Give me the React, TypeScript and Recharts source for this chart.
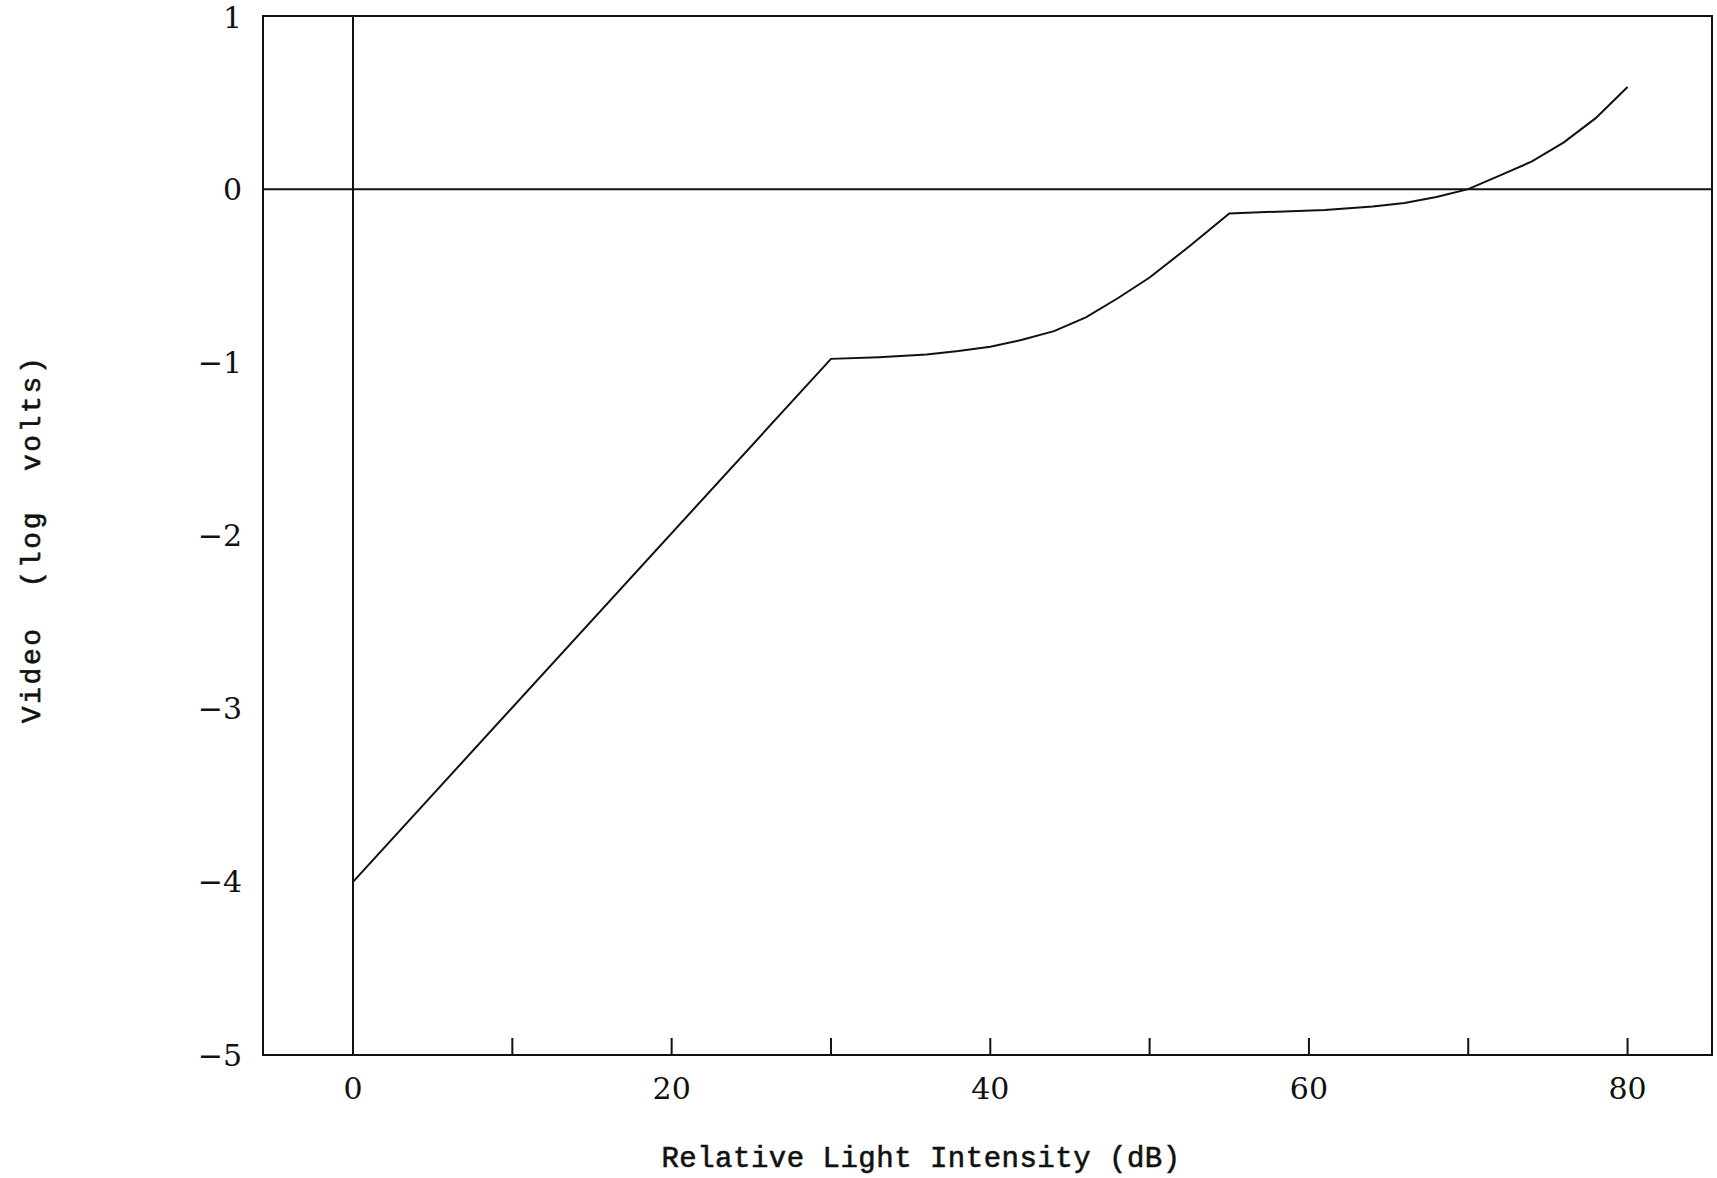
import React from 'react';
import {
  LineChart,
  Line,
  XAxis,
  YAxis,
  ReferenceLine,
  ReferenceArea,
} from 'recharts';

// light intensity (dB) vs video output (log volts)
const intensityDb = [0, 30, 33, 36, 38, 40, 42, 44, 46, 48, 50, 52.5, 55, 58, 61, 64, 66, 68, 70, 72, 74, 76, 78, 80];
const videoLogV = [-4, -0.98, -0.97, -0.955, -0.935, -0.91, -0.87, -0.82, -0.74, -0.63, -0.51, -0.33, -0.14, -0.13, -0.12, -0.1, -0.08, -0.045, 0.0, 0.08, 0.16, 0.27, 0.41, 0.59];

const xTicks = [0, 10, 20, 30, 40, 50, 60, 70, 80];
const xLabelled = [0, 20, 40, 60, 80];
const yTicks = [-5, -4, -3, -2, -1, 0, 1];
const xDomain: [number, number] = [-5.65, 85.3];
const yDomain: [number, number] = [-5, 1];

const INK = '#111';
const tickFont = { fill: INK, fontSize: 30, fontFamily: '"DejaVu Serif", serif' };
const titleFont = '"Liberation Mono", "DejaVu Sans Mono", monospace';

const data = intensityDb.map((x, i) => ({ x, y: videoLogV[i] }));

const fmtY = (v: number) => (v < 0 ? `\u2212${Math.abs(v)}` : `${v}`);
const fmtX = (v: number) => (xLabelled.includes(v) ? `${v}` : '');

export default function App() {
  return (
    <div style={{ position: 'absolute', left: 0, top: 0, background: '#fff' }}>
      <LineChart width={1717} height={1178} data={data} margin={{ top: 16, right: 5, left: 0, bottom: 0 }}>
        <ReferenceArea
          x1={xDomain[0]}
          x2={xDomain[1]}
          y1={yDomain[0]}
          y2={yDomain[1]}
          fill="none"
          stroke={INK}
          strokeWidth={2}
          ifOverflow="visible"
        />
        <XAxis
          dataKey="x"
          type="number"
          domain={xDomain}
          allowDataOverflow
          ticks={xTicks}
          tickFormatter={fmtX}
          height={123}
          tickSize={-17}
          tickMargin={40}
          tickLine={{ stroke: INK, strokeWidth: 2 }}
          axisLine={{ stroke: INK, strokeWidth: 2 }}
          tick={tickFont}
          label={{
            content: () => (
              <text
                x={921}
                y={1167}
                textAnchor="middle"
                fill={INK}
                stroke={INK}
                strokeWidth={0.6}
                fontSize={29}
                letterSpacing={0.5}
                fontFamily={titleFont}
              >
                Relative Light Intensity (dB)
              </text>
            ),
          }}
        />
        <YAxis
          type="number"
          domain={yDomain}
          allowDataOverflow
          ticks={yTicks}
          tickFormatter={fmtY}
          width={263}
          tickSize={0}
          tickMargin={21}
          tickLine={false}
          axisLine={{ stroke: INK, strokeWidth: 2 }}
          tick={tickFont}
          label={{
            content: () => (
              <text
                x={40}
                y={539}
                transform="rotate(-90 40 539)"
                textAnchor="middle"
                fill={INK}
                stroke={INK}
                strokeWidth={0.6}
                fontSize={28}
                letterSpacing={2.6}
                fontFamily={titleFont}
              >
                {'Video\u00a0\u00a0(log\u00a0\u00a0volts)'}
              </text>
            ),
          }}
        />
        <ReferenceLine x={0} stroke={INK} strokeWidth={2} />
        <ReferenceLine y={0} stroke={INK} strokeWidth={2} />
        <Line
          type="linear"
          dataKey="y"
          stroke={INK}
          strokeWidth={2}
          dot={false}
          isAnimationActive={false}
        />
      </LineChart>
    </div>
  );
}
